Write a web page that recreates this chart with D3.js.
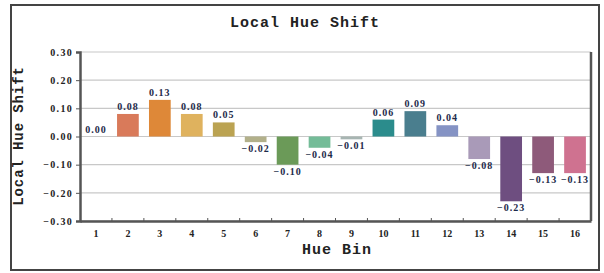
<!DOCTYPE html>
<html lang="en">
  <head>
    <meta charset="utf-8">
    <title>Local Hue Shift</title>
    <script src="https://d3js.org/d3.v7.js"></script>
    <style>
      body { margin: 0; background: #fff; }
    </style>
  </head>
  <body>
    <script>

  // size
  var w = 604;
  var h = 273;

  // data
  var bins = ["1","2","3","4","5","6","7","8","9","10","11","12","13","14","15","16"];
  var shifts = [0.00, 0.08, 0.13, 0.08, 0.05, -0.02, -0.10, -0.04, -0.01, 0.06, 0.09, 0.04, -0.08, -0.23, -0.13, -0.13];
  var barColors = ["#c9a7a0", "#d97a5a", "#de8838", "#dfb25e", "#bba352", "#b2b08a", "#6b9a58", "#74bc98",
                   "#a7b5b2", "#2b8c8c", "#4a7e8e", "#8593c4", "#a99ab8", "#6e4e80", "#8e5a7a", "#cf7290"];
  var yTicks = [-0.30, -0.20, -0.10, 0.00, 0.10, 0.20, 0.30];

  var margin = { left: 80, right: 11, top: 52, bottom: 52 };

  var svg = d3.select("body")
    .append("svg")
    .attr("width", w)
    .attr("height", h);

  // outer frame
  svg.append("rect")
    .attr("x", 11).attr("y", 5)
    .attr("width", 588).attr("height", 265)
    .attr("fill", "none")
    .attr("stroke", "#444")
    .attr("stroke-width", 2);

  var xScale = d3.scaleBand()
    .domain(bins)
    .range([margin.left, w - margin.right - 2])
    .paddingInner(0.32)
    .paddingOuter(0.16);

  var yScale = d3.scaleLinear()
    .domain([-0.30, 0.30])
    .range([h - margin.bottom, margin.top]);

  // grid
  svg.append("g")
    .selectAll("line")
    .data(yTicks)
    .enter()
    .append("line")
    .attr("x1", margin.left)
    .attr("x2", w - margin.right - 2)
    .attr("y1", d => yScale(d))
    .attr("y2", d => yScale(d))
    .attr("stroke", "#c8c8c8")
    .attr("stroke-width", 1.2);

  // bars
  svg.append("g")
    .selectAll("rect")
    .data(shifts)
    .enter()
    .append("rect")
    .attr("x", (d, i) => xScale(bins[i]))
    .attr("y", d => yScale(Math.max(0, d)))
    .attr("width", xScale.bandwidth())
    .attr("height", d => Math.abs(yScale(d) - yScale(0)))
    .attr("fill", (d, i) => barColors[i]);

  // value labels
  svg.append("g")
    .selectAll("text")
    .data(shifts)
    .enter()
    .append("text")
    .attr("x", (d, i) => xScale(bins[i]) + xScale.bandwidth() / 2)
    .attr("y", d => d >= 0 ? yScale(d) - 4 : yScale(d) + 10)
    .attr("text-anchor", "middle")
    .style("font-family", "'Liberation Serif', serif")
    .style("font-weight", "bold")
    .style("font-size", "10px")
    .style("letter-spacing", "1px")
    .attr("fill", "#1d2a4a")
    .text(d => d.toFixed(2).replace("-", "\u2212"));

  // y axis
  var yAxis = d3.axisLeft(yScale)
    .tickValues(yTicks)
    .tickSize(4)
    .tickFormat(d => d3.format(".2f")(d).replace("-", "\u2212"));

  var yG = svg.append("g")
    .attr("transform", "translate(" + margin.left + ",0)")
    .call(yAxis);
  yG.select(".domain").attr("stroke", "#555").attr("stroke-width", 2.5);
  yG.selectAll(".tick line").attr("stroke", "#555");
  yG.selectAll("text")
    .style("font-family", "'Liberation Serif', serif")
    .style("font-weight", "bold")
    .style("font-size", "10px")
    .style("letter-spacing", "1.3px")
    .attr("fill", "#222");

  // x axis
  var xAxis = d3.axisBottom(xScale)
    .tickSize(0)
    .tickPadding(9);

  var xG = svg.append("g")
    .attr("transform", "translate(0," + yScale(-0.30) + ")")
    .call(xAxis);
  xG.select(".domain").attr("stroke", "#555").attr("stroke-width", 2.5);
  xG.selectAll("text")
    .style("font-family", "'Liberation Serif', serif")
    .style("font-weight", "bold")
    .style("font-size", "10px")
    .attr("fill", "#222");

  // small marks at band edges
  svg.append("g")
    .selectAll("line")
    .data(bins.slice(1))
    .enter()
    .append("line")
    .attr("x1", d => xScale(d) - xScale.step() * xScale.paddingInner() / 2)
    .attr("x2", d => xScale(d) - xScale.step() * xScale.paddingInner() / 2)
    .attr("y1", yScale(-0.30) - 3)
    .attr("y2", yScale(-0.30))
    .attr("stroke", "#555");

  // right spine
  svg.append("line")
    .attr("x1", w - margin.right - 2).attr("x2", w - margin.right - 2)
    .attr("y1", yScale(0.30)).attr("y2", yScale(-0.30))
    .attr("stroke", "#555")
    .attr("stroke-width", 2.5);

  // title
  svg.append("text")
    .attr("x", 305)
    .attr("y", 27)
    .attr("text-anchor", "middle")
    .style("font-family", "'Liberation Mono', monospace")
    .style("font-weight", "bold")
    .style("font-size", "15px")
    .style("letter-spacing", "1px")
    .attr("fill", "#222")
    .text("Local Hue Shift");

  // axis titles
  svg.append("text")
    .attr("x", 337)
    .attr("y", 254)
    .attr("text-anchor", "middle")
    .style("font-family", "'Liberation Mono', monospace")
    .style("font-weight", "bold")
    .style("font-size", "15px")
    .style("letter-spacing", "1px")
    .attr("fill", "#222")
    .text("Hue Bin");

  svg.append("text")
    .attr("transform", "translate(23,136) rotate(-90)")
    .attr("text-anchor", "middle")
    .style("font-family", "'Liberation Mono', monospace")
    .style("font-weight", "bold")
    .style("font-size", "14px")
    .style("letter-spacing", "0.9px")
    .attr("fill", "#222")
    .text("Local Hue Shift");

    </script>
  </body>
</html>
